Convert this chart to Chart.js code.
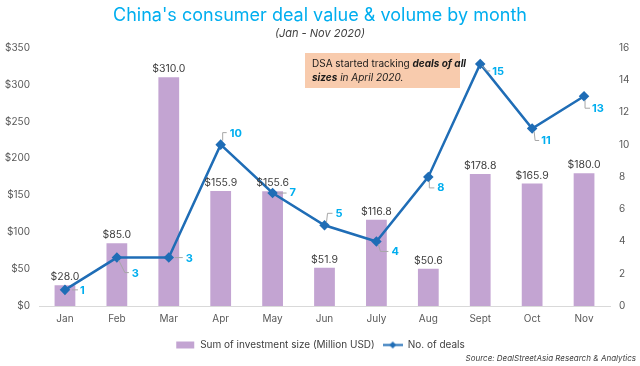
<!DOCTYPE html>
<html>
<head>
<meta charset="utf-8">
<script src="https://cdn.jsdelivr.net/npm/chart.js@4/dist/chart.umd.min.js"></script>
<style>
html,body{margin:0;padding:0;background:#fff;}
#wrap{width:640px;height:366px;position:relative;}
</style>
</head>
<body>
<div id="wrap"><canvas id="c" width="640" height="366"></canvas></div>
<script>
const months = ["Jan","Feb","Mar","Apr","May","Jun","July","Aug","Sept","Oct","Nov"];
const investmentSize = [28.0, 85.0, 310.0, 155.9, 155.6, 51.9, 116.8, 50.6, 178.8, 165.9, 180.0];
const dealCount = [1, 3, 3, 10, 7, 5, 4, 8, 15, 11, 13];
const leftTicks = [0, 50, 100, 150, 200, 250, 300, 350];
const rightTicks = [0, 2, 4, 6, 8, 10, 12, 14, 16];

const FONT = "Inter, 'Open Sans', sans-serif";
const BAR_COLOR = '#C3A4D2';
const LINE_COLOR = '#1F6DB6';
const LABEL_CYAN = '#00AEEF';
const TEXT_GRAY = '#595959';

// label placement styles for line labels (offsets from point, leader path)
const lineLabelStyle = [
  {lx:15, ly:1,  path:[[7,0],[13,0]]},
  {lx:15, ly:16, path:[[2,3],[8,15],[12,15]]},
  {lx:17, ly:1,  path:[[6,0],[14,0]]},
  {lx:9,  ly:-11,path:[[2,-4],[2,-12],[6,-12]]},
  {lx:17, ly:0,  path:[[5,0],[14,0]]},
  {lx:11, ly:-12,path:[[2,-3],[3,-12],[8,-12]]},
  {lx:15, ly:10, path:[[2,3],[4,10],[12,10]]},
  {lx:9,  ly:11, path:[[1,4],[1,11],[6,11]]},
  {lx:12, ly:8,  path:[[2,2],[7,7],[10,7]]},
  {lx:9,  ly:12, path:[[2,3],[3,12],[7,12]]},
  {lx:8,  ly:12, path:[[1,4],[1,12],[6,12]]}
];

function makeSwatch(kind){
  const cv = document.createElement('canvas');
  cv.width = 20; cv.height = 9;
  const g = cv.getContext('2d');
  if(kind==='bar'){
    g.fillStyle = BAR_COLOR; g.fillRect(1,1,18,7);
  } else {
    g.strokeStyle = LINE_COLOR; g.lineWidth = 2;
    g.beginPath(); g.moveTo(0,4.5); g.lineTo(20,4.5); g.stroke();
    g.fillStyle = LINE_COLOR;
    g.beginPath(); g.moveTo(10,1); g.lineTo(13.5,4.5); g.lineTo(10,8); g.lineTo(6.5,4.5); g.closePath(); g.fill();
  }
  return cv;
}
const barSwatch = makeSwatch('bar');
const lineSwatch = makeSwatch('line');

const labelsPlugin = {
  id:'customLabels',
  afterDatasetsDraw(chart){
    const ctx = chart.ctx;
    ctx.save();
    // bar labels
    const barMeta = chart.getDatasetMeta(1);
    ctx.font = "10.5px " + FONT;
    ctx.fillStyle = '#404040';
    ctx.textAlign = 'center';
    ctx.textBaseline = 'bottom';
    barMeta.data.forEach((el,i)=>{
      ctx.fillText('$' + investmentSize[i].toFixed(1), el.x, el.y - 3);
    });
    // line labels
    const lineMeta = chart.getDatasetMeta(0);
    lineMeta.data.forEach((el,i)=>{
      const s = lineLabelStyle[i];
      ctx.strokeStyle = '#A6A6A6'; ctx.lineWidth = 1;
      ctx.beginPath();
      s.path.forEach((p,k)=>{ const x = el.x + p[0], y = el.y + p[1]; if(k===0) ctx.moveTo(x,y); else ctx.lineTo(x,y); });
      ctx.stroke();
      ctx.font = "bold 11px " + FONT;
      ctx.fillStyle = LABEL_CYAN;
      ctx.textAlign = 'left';
      ctx.textBaseline = 'middle';
      ctx.fillText(String(dealCount[i]), el.x + s.lx, el.y + s.ly);
    });
    // annotation box
    ctx.fillStyle = '#F8CBAD';
    ctx.fillRect(305, 53, 155, 35);
    ctx.fillStyle = '#1a1a1a';
    ctx.textAlign = 'left';
    ctx.textBaseline = 'middle';
    let x = 312;
    ctx.font = "10px " + FONT;
    ctx.fillText("DSA started tracking ", x, 64);
    x += ctx.measureText("DSA started tracking ").width;
    ctx.font = "italic bold 10px " + FONT;
    ctx.fillText("deals of all", x, 64);
    x = 312;
    ctx.fillText("sizes", x, 78);
    x += ctx.measureText("sizes").width;
    ctx.font = "italic 10px " + FONT;
    ctx.fillText(" in April 2020.", x, 78);
    // source
    ctx.font = "italic 8px " + FONT;
    ctx.fillStyle = '#404040';
    ctx.textAlign = 'right';
    ctx.fillText("Source: DealStreetAsia Research & Analytics", 636, 359);
    ctx.restore();
  }
};

new Chart(document.getElementById('c'), {
  data: {
    labels: months,
    datasets: [
      {
        type:'line', label:'No. of deals', data: dealCount, yAxisID:'y1',
        borderColor: LINE_COLOR, backgroundColor: LINE_COLOR, borderWidth: 2.5,
        pointStyle:'rectRot', pointRadius: 3.5, pointBackgroundColor: LINE_COLOR,
        pointBorderColor: LINE_COLOR, tension: 0, order: 0
      },
      {
        type:'bar', label:'Sum of investment size (Million USD)', data: investmentSize, yAxisID:'y',
        backgroundColor: BAR_COLOR, barPercentage: 0.8, categoryPercentage: 0.5, order: 1
      }
    ]
  },
  options: {
    responsive: false,
    animation: false,
    layout: { padding: { left: 0, right: 0, top: 0, bottom: 6 } },
    plugins: {
      title: {
        display: true, text: "China's consumer deal value & volume by month",
        color: '#00AEEF', font: { family: FONT, size: 18, weight: 'normal' },
        padding: { top: 5, bottom: 0 }
      },
      subtitle: {
        display: true, text: "(Jan - Nov 2020)",
        color: '#404040', font: { family: FONT, size: 11, style: 'italic' },
        padding: { top: 0, bottom: 8 }
      },
      legend: {
        position: 'bottom', reverse: true,
        labels: {
          color: '#404040', font: { family: FONT, size: 10 },
          usePointStyle: true, pointStyleWidth: 20, boxHeight: 9, padding: 8,
          generateLabels(chart){
            const items = Chart.defaults.plugins.legend.labels.generateLabels(chart);
            items.forEach(it => { it.pointStyle = it.datasetIndex === 1 ? barSwatch : lineSwatch; });
            return items;
          }
        }
      },
      tooltip: { enabled: false }
    },
    scales: {
      x: {
        grid: { display: false, drawTicks: false },
        border: { display: true, color: '#D9D9D9', width: 1 },
        ticks: { color: TEXT_GRAY, font: { family: FONT, size: 10 }, padding: 7 }
      },
      y: {
        position: 'left', min: 0, max: 350,
        afterFit(s){ s.width = 39; },
        afterBuildTicks(s){ s.ticks = leftTicks.map(v => ({value: v})); },
        grid: { display: false, drawTicks: false },
        border: { display: false },
        ticks: { color: TEXT_GRAY, font: { family: FONT, size: 10 }, padding: 9, callback: v => '$' + v }
      },
      y1: {
        position: 'right', min: 0, max: 16,
        afterFit(s){ s.width = 30; },
        afterBuildTicks(s){ s.ticks = rightTicks.map(v => ({value: v})); },
        grid: { display: false, drawTicks: false },
        border: { display: false },
        ticks: { color: TEXT_GRAY, font: { family: FONT, size: 10 }, padding: 9 }
      }
    }
  },
  plugins: [labelsPlugin]
});
</script>
</body>
</html>
